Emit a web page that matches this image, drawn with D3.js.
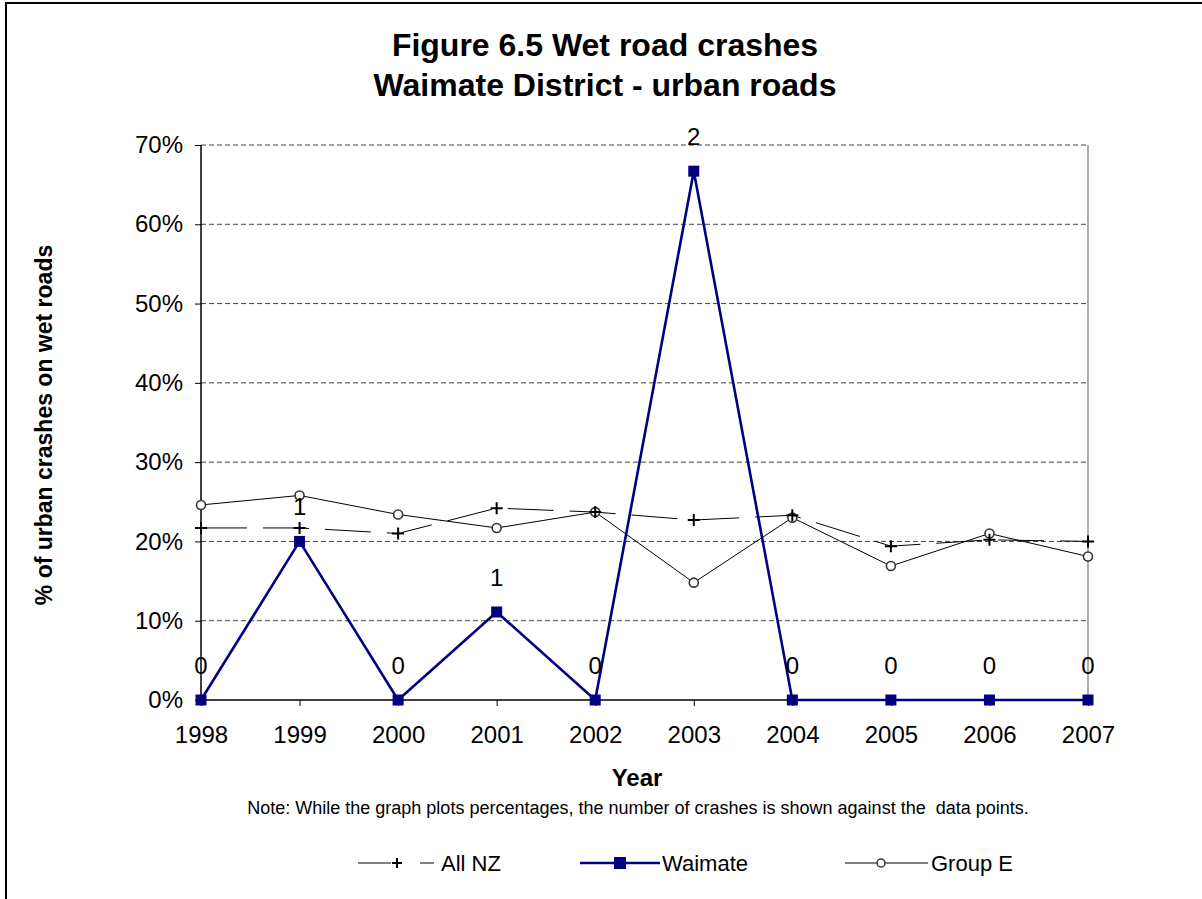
<!DOCTYPE html>
<html>
<head>
<meta charset="utf-8">
<script src="https://cdn.jsdelivr.net/npm/d3@7"></script>
<style>
  body { margin: 0; background: #fff; }
  svg { display: block; font-family: Arial, "Liberation Sans", sans-serif; }
</style>
</head>
<body>
<div id="chart"></div>
<script>
// data
const years = ["1998", "1999", "2000", "2001", "2002", "2003", "2004", "2005", "2006", "2007"];
const allNZ = [0.217, 0.217, 0.210, 0.242, 0.237, 0.227, 0.233, 0.194, 0.202, 0.200];
const waimate = [0, 0.20, 0, 0.111, 0, 0.667, 0, 0, 0, 0];
const waimateCounts = [0, 1, 0, 1, 0, 2, 0, 0, 0, 0];
const groupE = [0.246, 0.258, 0.234, 0.217, 0.237, 0.148, 0.230, 0.169, 0.210, 0.181];
const yTicks = [0, 0.1, 0.2, 0.3, 0.4, 0.5, 0.6, 0.7];

const W = 1202, H = 899;
const plot = {left: 201, right: 1088, top: 145, bottom: 700};

const svg = d3.select("#chart").append("svg")
    .attr("width", W)
    .attr("height", H);

// outer frame (runs off the right and bottom edges)
svg.append("rect")
    .attr("x", 6).attr("y", 3)
    .attr("width", 1300).attr("height", 1000)
    .attr("fill", "none")
    .attr("stroke", "#000")
    .attr("stroke-width", 2);

const x = d3.scalePoint().domain(years).range([plot.left, plot.right]);
const y = d3.scaleLinear().domain([0, 0.7]).range([plot.bottom, plot.top]);

// title
const title = svg.append("text")
    .attr("text-anchor", "middle")
    .attr("font-weight", "bold")
    .attr("font-size", 32);
title.append("tspan").attr("x", 605).attr("y", 56).text("Figure 6.5 Wet road crashes");
title.append("tspan").attr("x", 605).attr("y", 96).text("Waimate District - urban roads");

// gridlines
svg.append("g").selectAll("line")
    .data(yTicks.filter(d => d > 0))
    .join("line")
    .attr("x1", plot.left).attr("x2", plot.right)
    .attr("y1", d => y(d)).attr("y2", d => y(d))
    .attr("stroke", "#444")
    .attr("stroke-width", 1)
    .attr("stroke-dasharray", "5,3");

// right frame of plot area
svg.append("line")
    .attr("x1", plot.right).attr("x2", plot.right)
    .attr("y1", plot.top).attr("y2", plot.bottom)
    .attr("stroke", "#777").attr("stroke-width", 1.2);

// axes
const yAxis = svg.append("g")
    .attr("transform", `translate(${plot.left},0)`)
    .call(d3.axisLeft(y).tickValues(yTicks).tickFormat(d3.format(".0%")).tickSize(6).tickPadding(12));
const xAxis = svg.append("g")
    .attr("transform", `translate(0,${plot.bottom})`)
    .call(d3.axisBottom(x).tickSize(6).tickPadding(20));

[yAxis, xAxis].forEach(g => {
    g.select(".domain").attr("stroke", "#000").attr("stroke-width", 1.5);
    g.selectAll(".tick line").attr("stroke", "#000");
    g.selectAll(".tick text")
        .attr("font-size", 24)
        .attr("font-family", "Arial, 'Liberation Sans', sans-serif")
        .attr("fill", "#000");
});
xAxis.select(".domain").attr("d", `M${plot.left},0H${plot.right}`);
yAxis.select(".domain").attr("d", `M0,${plot.bottom}V${plot.top}`);

// axis titles
svg.append("text")
    .attr("transform", `translate(52,425) rotate(-90)`)
    .attr("text-anchor", "middle")
    .attr("font-weight", "bold")
    .attr("font-size", 23)
    .text("% of urban crashes on wet roads");

svg.append("text")
    .attr("x", 637).attr("y", 786)
    .attr("text-anchor", "middle")
    .attr("font-weight", "bold")
    .attr("font-size", 24)
    .text("Year");

svg.append("text")
    .attr("x", 638).attr("y", 814)
    .attr("text-anchor", "middle")
    .attr("font-size", 18)
    .style("white-space", "pre")
    .text("Note: While the graph plots percentages, the number of crashes is shown against the  data points.");

const line = d3.line().x((d, i) => x(years[i])).y(d => y(d));

// Group E
svg.append("path")
    .datum(groupE)
    .attr("d", line)
    .attr("fill", "none")
    .attr("stroke", "#000")
    .attr("stroke-width", 1);
svg.append("g").selectAll("circle")
    .data(groupE)
    .join("circle")
    .attr("cx", (d, i) => x(years[i]))
    .attr("cy", d => y(d))
    .attr("r", 4.5)
    .attr("fill", "#fff")
    .attr("stroke", "#333")
    .attr("stroke-width", 1.6);

// All NZ
svg.append("path")
    .datum(allNZ)
    .attr("d", line)
    .attr("fill", "none")
    .attr("stroke", "#000")
    .attr("stroke-width", 1)
    .attr("stroke-dasharray", "46,16");
svg.append("g").selectAll("path")
    .data(allNZ)
    .join("path")
    .attr("transform", (d, i) => `translate(${x(years[i])},${y(d)})`)
    .attr("d", "M-6,0H6M0,-6V6")
    .attr("stroke", "#000")
    .attr("stroke-width", 2);

// Waimate
svg.append("path")
    .datum(waimate)
    .attr("d", line)
    .attr("fill", "none")
    .attr("stroke", "#000080")
    .attr("stroke-width", 2.6);
svg.append("g").selectAll("rect")
    .data(waimate)
    .join("rect")
    .attr("x", (d, i) => x(years[i]) - 5.5)
    .attr("y", d => y(d) - 5.5)
    .attr("width", 11).attr("height", 11)
    .attr("fill", "#000080");

// crash counts
svg.append("g").selectAll("text")
    .data(waimate)
    .join("text")
    .attr("x", (d, i) => x(years[i]))
    .attr("y", d => y(d) - 26)
    .attr("text-anchor", "middle")
    .attr("font-size", 24)
    .text((d, i) => waimateCounts[i]);

// legend
const legY = 863;
const leg = svg.append("g");
// All NZ
leg.append("line").attr("x1", 358).attr("x2", 391).attr("y1", legY).attr("y2", legY)
    .attr("stroke", "#000").attr("stroke-width", 1);
leg.append("line").attr("x1", 420).attr("x2", 434).attr("y1", legY).attr("y2", legY)
    .attr("stroke", "#000").attr("stroke-width", 1);
leg.append("path").attr("transform", `translate(397,${legY})`)
    .attr("d", "M-5,0H5M0,-5V5").attr("stroke", "#000").attr("stroke-width", 2);
leg.append("text").attr("x", 441).attr("y", legY + 8).attr("font-size", 22).text("All NZ");
// Waimate
leg.append("line").attr("x1", 580).attr("x2", 660).attr("y1", legY).attr("y2", legY)
    .attr("stroke", "#000080").attr("stroke-width", 2.6);
leg.append("rect").attr("x", 614).attr("y", legY - 6).attr("width", 12).attr("height", 12)
    .attr("fill", "#000080");
leg.append("text").attr("x", 662).attr("y", legY + 8).attr("font-size", 22).text("Waimate");
// Group E
leg.append("line").attr("x1", 845).attr("x2", 928).attr("y1", legY).attr("y2", legY)
    .attr("stroke", "#000").attr("stroke-width", 1);
leg.append("circle").attr("cx", 881).attr("cy", legY).attr("r", 4)
    .attr("fill", "#fff").attr("stroke", "#333").attr("stroke-width", 1.5);
leg.append("text").attr("x", 931).attr("y", legY + 8).attr("font-size", 22).text("Group E");
</script>
</body>
</html>
